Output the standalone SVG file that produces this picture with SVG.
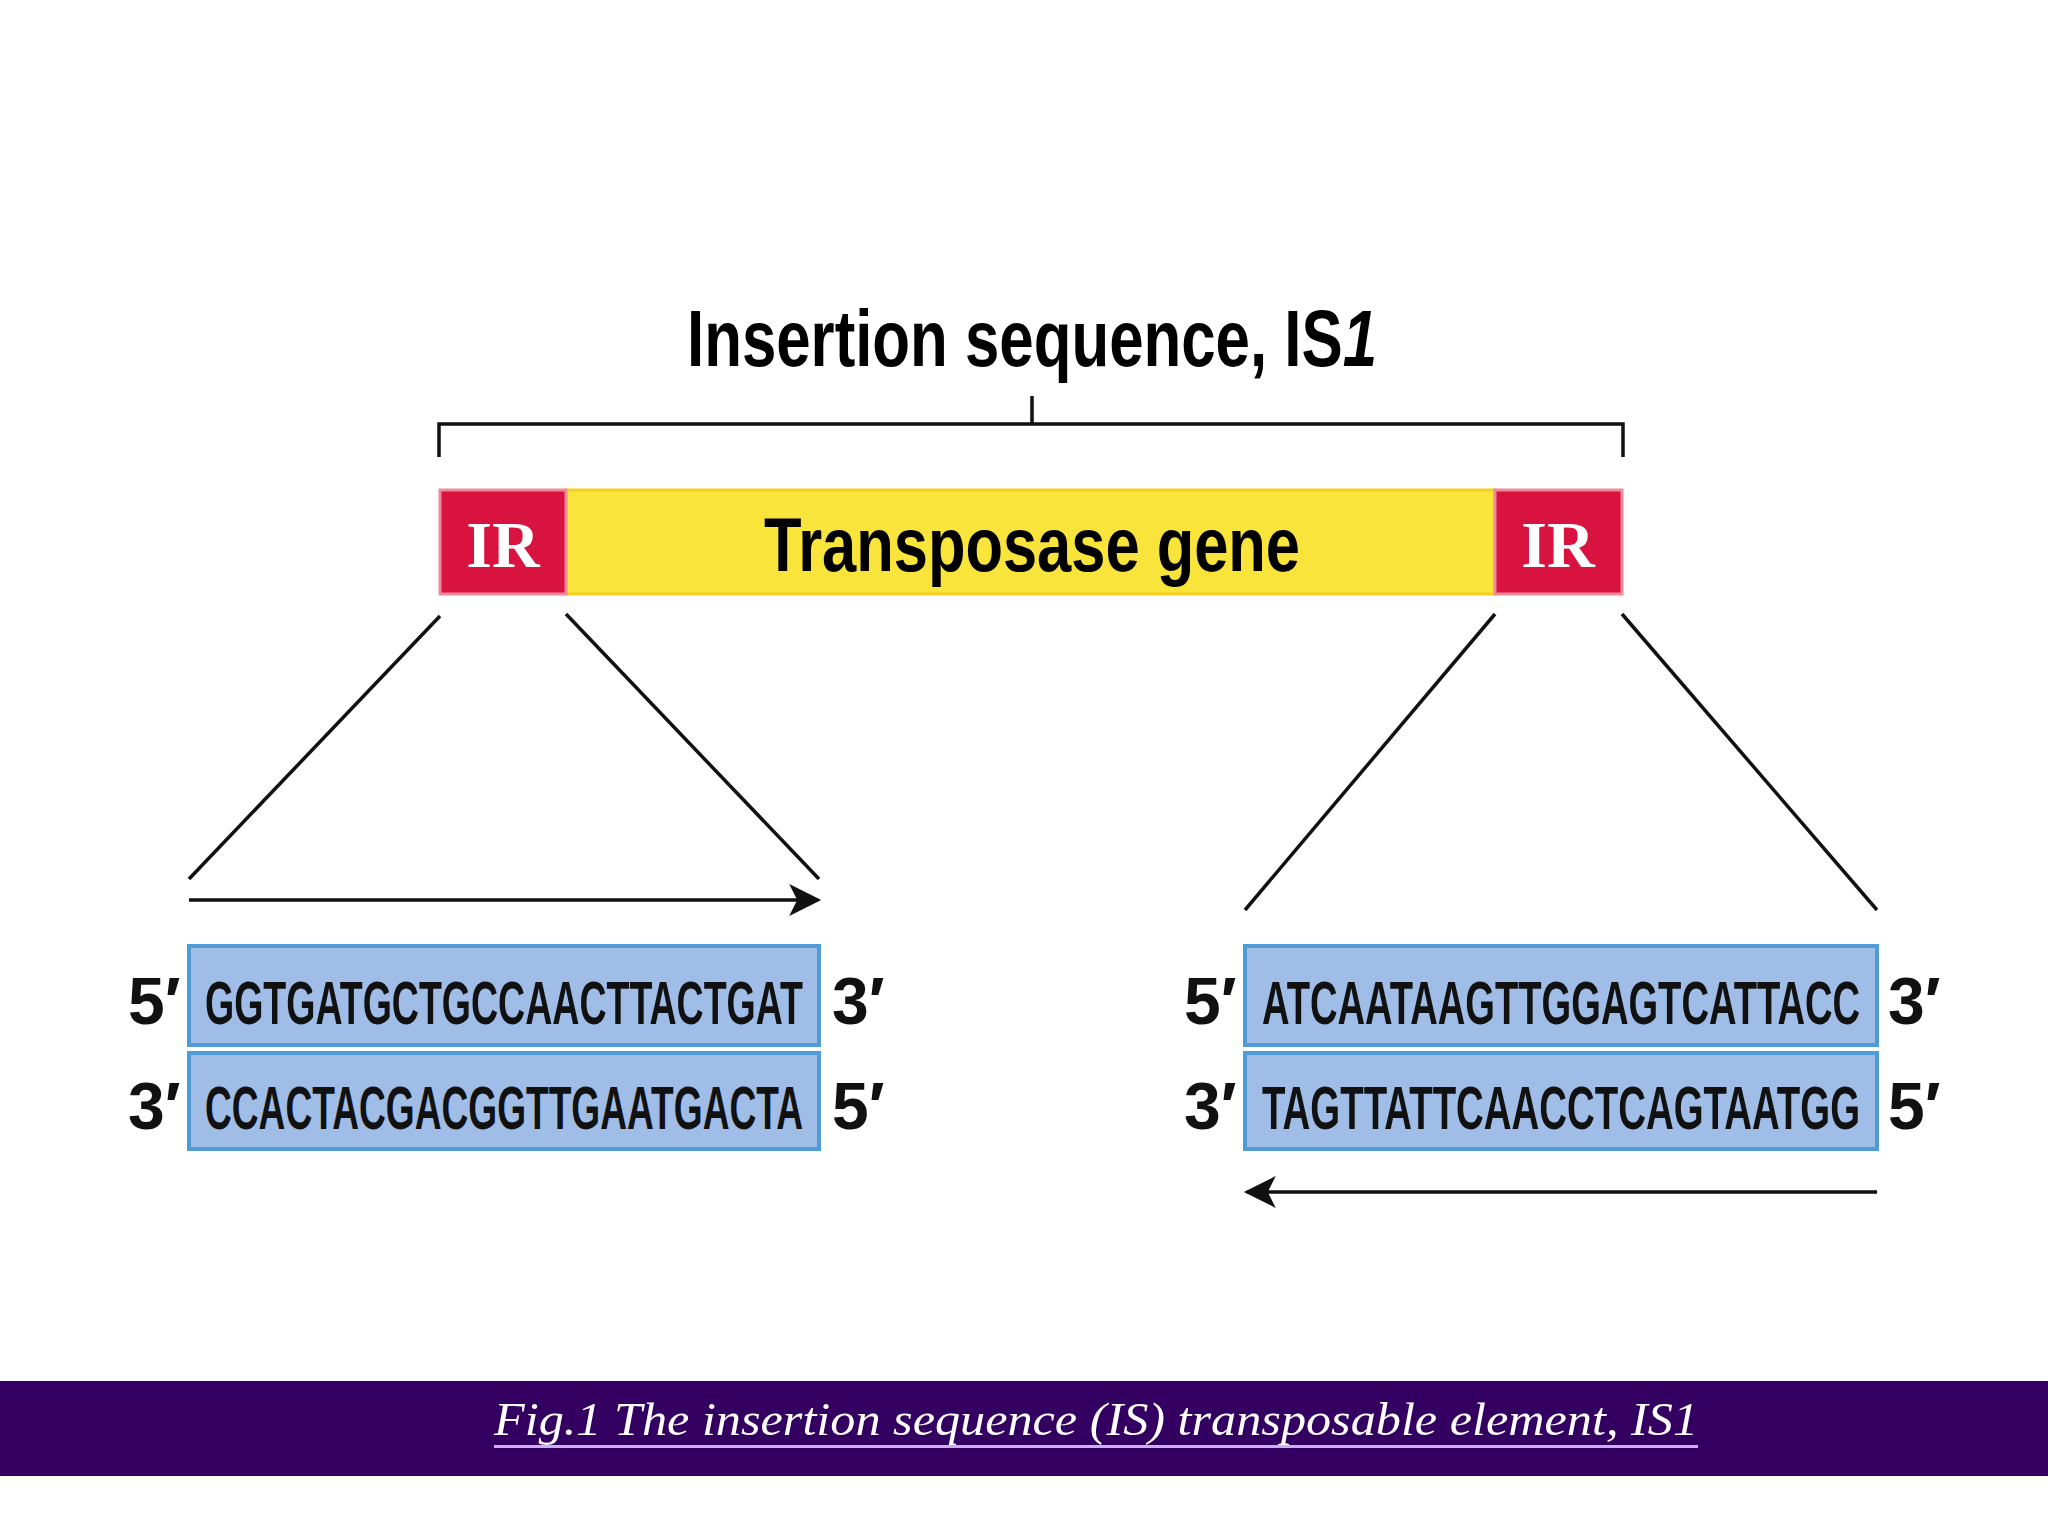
<svg xmlns="http://www.w3.org/2000/svg" width="2048" height="1536" viewBox="0 0 2048 1536">
<defs>
<style>
.t{font-family:"Liberation Sans",Arial,sans-serif;font-weight:bold;fill:#000}
.seq{font-family:"Liberation Sans",Arial,sans-serif;font-weight:bold;font-size:62px;fill:#111}
.lab{font-family:"Liberation Sans",Arial,sans-serif;font-weight:bold;font-size:66px;fill:#111}
.ln{stroke:#111;stroke-width:3.5;fill:none}
.box{fill:#9fbde6;stroke:#4f9bd6;stroke-width:4}
.ir{fill:#d8133f;stroke:#ef8a9a;stroke-width:3}
.irt{font-family:"Liberation Serif","Times New Roman",serif;font-weight:bold;font-size:66px;fill:#fff}
</style>
<marker id="ah" viewBox="0 0 10 10" refX="9" refY="5" markerWidth="12" markerHeight="10" markerUnits="userSpaceOnUse" orient="auto">
<path d="M0,0 L10,5 L0,10 z" fill="#111"/>
</marker>
<marker id="ahb" viewBox="0 0 10 10" refX="9" refY="5" markerWidth="42" markerHeight="32" markerUnits="userSpaceOnUse" orient="auto">
<path d="M0,0 L10,5 L0,10 L2.5,5 z" fill="#111"/>
</marker>
</defs>
<rect width="2048" height="1536" fill="#fff"/>
<g id="title"><text class="t" x="1032" y="366" font-size="80" text-anchor="middle" textLength="690" lengthAdjust="spacingAndGlyphs">Insertion sequence, IS<tspan font-style="italic">1</tspan></text></g>
<g id="bracket"><path class="ln" d="M439,457 V424 H1623 V457 M1032,396 V424"/></g>
<g id="bar">
<rect x="566" y="490" width="929" height="104" fill="#f9e43c" stroke="#f4d020" stroke-width="3"/>
<text class="t" x="1032" y="571" font-size="76" text-anchor="middle" textLength="536" lengthAdjust="spacingAndGlyphs">Transposase gene</text>
</g>
<g id="ir-left"><rect class="ir" x="440" y="490" width="126" height="104"/><text class="irt" x="503" y="567" text-anchor="middle">IR</text></g>
<g id="ir-right"><rect class="ir" x="1495" y="490" width="127" height="104"/><text class="irt" x="1558" y="567" text-anchor="middle">IR</text></g>
<g id="connectors">
<path class="ln" d="M440,616 L189,879 M566,614 L819,879 M1495,614 L1245,910 M1622,614 L1877,910"/>
<path class="ln" d="M189,900 H818" marker-end="url(#ahb)"/>
<path class="ln" d="M1877,1192 H1247" marker-end="url(#ahb)"/>
</g>
<g id="seq-left">
<rect class="box" x="189" y="946" width="630" height="99"/>
<rect class="box" x="189" y="1053" width="630" height="96"/>
<text class="seq" x="205" y="1024" textLength="598" lengthAdjust="spacingAndGlyphs">GGTGATGCTGCCAACTTACTGAT</text>
<text class="seq" x="205" y="1129" textLength="598" lengthAdjust="spacingAndGlyphs">CCACTACGACGGTTGAATGACTA</text>
<text class="lab" x="128" y="1024">5′</text><text class="lab" x="128" y="1129">3′</text>
<text class="lab" x="832" y="1024">3′</text><text class="lab" x="832" y="1129">5′</text>
</g>
<g id="seq-right">
<rect class="box" x="1245" y="946" width="632" height="99"/>
<rect class="box" x="1245" y="1053" width="632" height="96"/>
<text class="seq" x="1262" y="1024" textLength="598" lengthAdjust="spacingAndGlyphs">ATCAATAAGTTGGAGTCATTACC</text>
<text class="seq" x="1262" y="1129" textLength="598" lengthAdjust="spacingAndGlyphs">TAGTTATTCAACCTCAGTAATGG</text>
<text class="lab" x="1184" y="1024">5′</text><text class="lab" x="1184" y="1129">3′</text>
<text class="lab" x="1888" y="1024">3′</text><text class="lab" x="1888" y="1129">5′</text>
</g>
<g id="caption">
<rect x="0" y="1381" width="2048" height="95" fill="#330061"/>
<text x="1096" y="1435" font-family="Liberation Serif,serif" font-style="italic" font-size="46" fill="#fff" text-anchor="middle" textLength="1204" lengthAdjust="spacingAndGlyphs">Fig.1  The insertion sequence (IS) transposable element, IS1</text>
<rect x="494" y="1445" width="1204" height="3" fill="#c9b0f0"/>
</g>
</svg>
